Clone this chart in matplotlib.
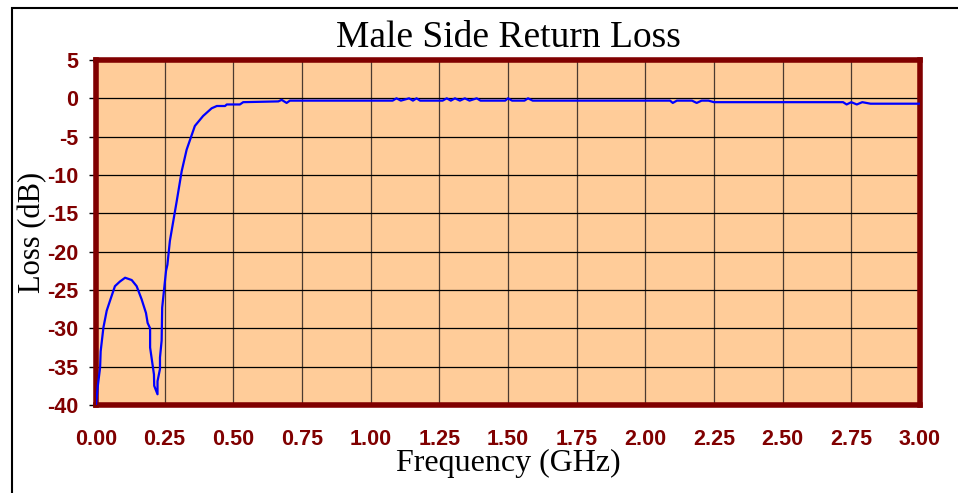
import matplotlib.pyplot as plt
from matplotlib.patches import Rectangle

plt.rcParams['axes.unicode_minus'] = False

# frequency (GHz) and return loss (dB)
freq = [0.000, 0.006, 0.015, 0.017, 0.027, 0.039, 0.051, 0.069, 0.087, 0.106,
        0.130, 0.148, 0.166, 0.182, 0.188, 0.197, 0.197, 0.203, 0.211, 0.212,
        0.224, 0.224, 0.233, 0.233, 0.239, 0.241, 0.255, 0.260, 0.269, 0.294,
        0.312, 0.330, 0.360, 0.390, 0.421, 0.440, 0.470, 0.476, 0.524, 0.536,
        0.664, 0.676, 0.694, 0.706, 0.815, 1.080, 1.094, 1.110, 1.140, 1.154,
        1.167, 1.180, 1.195, 1.262, 1.277, 1.292, 1.307, 1.325, 1.343, 1.360,
        1.386, 1.400, 1.490, 1.500, 1.515, 1.560, 1.573, 1.590, 2.090, 2.100,
        2.115, 2.170, 2.187, 2.205, 2.230, 2.250, 2.720, 2.733, 2.750, 2.770,
        2.790, 2.820, 3.000]
loss = [-40.0, -37.7, -35.1, -33.0, -29.9, -27.7, -26.4, -24.5, -23.9, -23.4,
        -23.7, -24.5, -26.2, -28.0, -29.3, -30.0, -32.5, -34.0, -36.0, -37.5,
        -38.6, -36.9, -35.3, -33.8, -31.6, -27.3, -22.5, -21.7, -18.6, -13.4,
        -9.5, -6.7, -3.6, -2.3, -1.3, -1.0, -1.0, -0.8, -0.8, -0.5,
        -0.4, -0.2, -0.6, -0.3, -0.3, -0.3, 0.0, -0.3, 0.0, -0.3,
        0.0, -0.3, -0.3, -0.3, 0.0, -0.3, 0.0, -0.3, 0.0, -0.3,
        0.0, -0.3, -0.3, 0.0, -0.3, -0.3, 0.0, -0.3, -0.3, -0.6,
        -0.3, -0.3, -0.6, -0.3, -0.3, -0.5, -0.5, -0.8, -0.5, -0.8,
        -0.5, -0.7, -0.7]

xticks = [0, 0.25, 0.5, 0.75, 1.0, 1.25, 1.5, 1.75, 2.0, 2.25, 2.5, 2.75, 3.0]
yticks = [5, 0, -5, -10, -15, -20, -25, -30, -35, -40]

dark_red = '#800000'

fig = plt.figure(figsize=(9.58, 4.93), dpi=100)
ax = fig.add_axes([0.1002, 0.1785, 0.8601, 0.6998])
ax.set_facecolor('#FFCC99')

ax.plot(freq, loss, color='#0000FF', linewidth=1.6, zorder=3)

ax.set_xlim(0, 3)
ax.set_ylim(-40, 5)
ax.set_xticks(xticks)
ax.set_xticklabels(['%.2f' % v for v in xticks])
ax.set_yticks(yticks)
ax.grid(True, axis='y', color='black', linewidth=0.9)
ax.grid(True, axis='x', color='#4a3a30', linewidth=0.9)
ax.set_axisbelow(True)

for s in ax.spines.values():
    s.set_color(dark_red)
    s.set_linewidth(4)

ax.tick_params(axis='x', length=0, pad=17, labelsize=15.5, labelcolor=dark_red)
ax.tick_params(axis='y', length=5, width=1, color='black', pad=8, labelsize=15.5, labelcolor=dark_red)
for lbl in ax.get_xticklabels() + ax.get_yticklabels():
    lbl.set_fontweight('bold')
    lbl.set_fontfamily('Liberation Sans')

ax.set_title('Male Side Return Loss', fontsize=27, family='Liberation Serif', pad=9)
ax.set_xlabel('Frequency (GHz)', fontsize=23, family='Liberation Serif')
ax.set_ylabel('Loss (dB)', fontsize=22, family='Liberation Serif')
ax.xaxis.label.set_verticalalignment('center')
ax.yaxis.label.set_verticalalignment('center')
ax.xaxis.set_label_coords(0.5, -0.168)
ax.yaxis.set_label_coords(-0.0765, 0.5)

# outer chart frame (only left and top visible in the reference)
fig.patches.append(Rectangle((12 / 958, -0.1), 1.2, 1 - 8 / 493 + 0.1,
                             transform=fig.transFigure, fill=False,
                             edgecolor='black', linewidth=1.5))

fig.savefig('out.png', dpi=100)
